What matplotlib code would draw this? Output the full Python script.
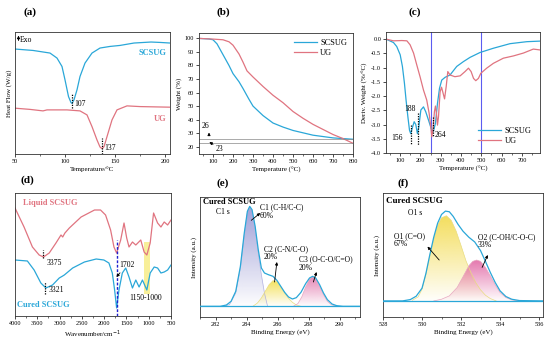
import matplotlib
matplotlib.use("Agg")
import matplotlib.pyplot as plt
import numpy as np
from matplotlib.ticker import AutoMinorLocator

plt.rcParams["font.family"] = ["Liberation Serif", "DejaVu Serif"]
plt.rcParams["axes.linewidth"] = 0.6
plt.rcParams["xtick.major.width"] = 0.5
plt.rcParams["ytick.major.width"] = 0.5
plt.rcParams["xtick.minor.width"] = 0.4
plt.rcParams["ytick.minor.width"] = 0.4

CYAN = "#2aa7d8"
PINK = "#e07480"
VLINE = "#5c5cf0"

# (a) DSC
dsc_t_scsug = [50, 68, 85, 92, 97, 100, 103.5, 106, 107, 109, 112, 115, 120, 127, 135, 145, 155, 169, 186, 195, 205]
dsc_scsug = [104.7, 103.3, 100.7, 95.7, 87.3, 74, 57.3, 51.3, 50.5, 54, 64, 77.3, 90.7, 100.7, 105.7, 107.3, 108.3, 110.7, 111.7, 111.3, 110.7]
dsc_t_ug = [50, 65, 78, 82, 102, 115, 122, 127, 132, 135, 137, 139, 142, 147, 152, 162, 175, 205]
dsc_ug = [45.7, 44.5, 43, 44, 44, 43, 39, 27.3, 14, 7, 5.3, 7.3, 17.3, 34, 44, 48, 47.3, 46.7]

# (b) TGA
tga_t_scsug = [30, 80, 100, 120, 150, 180, 200, 230, 250, 280, 300, 350, 400, 450, 500, 600, 700, 800]
tga_scsug = [100, 99.6, 99, 96, 88, 80, 74, 68, 63, 55, 50, 43, 37.5, 34.5, 32, 28.5, 26.5, 25.5]
tga_t_ug = [30, 100, 150, 180, 200, 230, 250, 270, 300, 350, 400, 450, 500, 550, 600, 700, 750, 800]
tga_ug = [100, 99.5, 99, 97.5, 95, 88.5, 82.5, 76, 71.5, 64.5, 58, 52.5, 46, 41, 36.5, 29, 26, 22.5]
tga_residue = [26, 23]

# (c) DTG
dtg_t_scsug = [30, 67, 83, 100, 111, 121, 129, 138, 146, 152, 159, 169, 177, 185, 192, 202, 215, 226, 240, 253, 264, 274, 284, 294, 305, 322, 346, 379, 412, 445, 494, 560, 642, 725, 790]
dtg_scsug = [0.0, -0.12, -0.26, -0.55, -0.96, -1.55, -2.14, -2.73, -3.2, -3.32, -3.14, -2.9, -3.0, -3.32, -3.08, -2.49, -2.38, -2.55, -2.85, -3.14, -3.24, -2.96, -2.26, -1.73, -1.44, -1.34, -1.26, -0.96, -0.79, -0.64, -0.47, -0.32, -0.16, -0.09, -0.07]
dtg_t_ug = [30, 67, 108, 133, 149, 166, 182, 198, 215, 231, 243, 251, 256, 262, 269, 274, 279, 284, 289, 297, 304, 310, 319, 327, 335, 346, 370, 396, 420, 437, 450, 462, 473, 486, 498, 527, 560, 609, 659, 708, 757, 790]
dtg_ug = [0.0, -0.06, -0.05, -0.06, -0.2, -0.49, -0.91, -1.32, -1.79, -2.14, -2.61, -3.08, -3.43, -3.15, -2.55, -2.35, -2.61, -3.02, -2.73, -1.85, -1.69, -1.85, -2.1, -1.67, -1.14, -1.26, -1.32, -1.29, -1.14, -1.02, -1.14, -1.38, -1.46, -1.38, -1.2, -1.02, -0.85, -0.67, -0.59, -0.49, -0.35, -0.38]
dtg_marks = [250, 500]

# (d) FTIR
ir_wn_liquid = [4000, 3797, 3609, 3458, 3361, 3232, 3081, 2968, 2930, 2880, 2781, 2517, 2216, 2081, 1968, 1855, 1780, 1720, 1629, 1554, 1494, 1442, 1365, 1290, 1178, 1103, 1042, 967, 891, 801, 726, 652, 576, 500]
ir_liquid = [108, 89, 69, 61, 59, 63, 73, 81, 79, 83, 88, 99, 106, 106, 101, 86, 69, 63, 76, 93, 78, 69, 74, 71, 76, 64, 61, 73, 103, 93, 89, 94, 91, 96]
ir_wn_cured = [4000, 3722, 3571, 3420, 3307, 3158, 3007, 2930, 2894, 2706, 2442, 2178, 2006, 1893, 1817, 1765, 1720, 1667, 1592, 1516, 1442, 1365, 1290, 1216, 1141, 1042, 967, 877, 801, 726, 652, 576, 500]
ir_cured = [56, 55, 46, 33, 28, 31, 38, 40, 41, 48, 54, 57, 56, 53, 43, 26, 8, 26, 43, 48, 39, 28, 36, 29, 36, 26, 43, 49, 48, 43, 44, 46, 51]

# (e) XPS C1s
c1s_x = [281, 282.3, 282.7, 283.0, 283.3, 283.6, 283.85, 284.05, 284.2, 284.35, 284.55, 284.75, 284.95, 285.15, 285.4, 285.7, 285.95, 286.2, 286.45, 286.7, 286.95, 287.2, 287.5, 287.8, 288.05, 288.25, 288.45, 288.7, 288.95, 289.2, 289.5, 289.8, 290.2, 291.3]
c1s_env = [0, 0, 4, 15, 45, 120, 220, 285, 300, 290, 240, 170, 115, 100, 95, 90, 78, 60, 42, 28, 22, 26, 42, 68, 85, 90, 85, 65, 40, 20, 7, 2, 0, 0]
c1_x = [282.5, 282.9, 283.3, 283.6, 283.85, 284.05, 284.2, 284.35, 284.55, 284.75, 284.95, 285.15, 285.35]
c1_y = [0, 5, 40, 115, 215, 283, 298, 288, 235, 160, 95, 40, 0]
c2_x = [284.4, 284.7, 284.95, 285.2, 285.45, 285.7, 285.95, 286.2, 286.45, 286.7, 286.95, 287.2, 287.5]
c2_y = [0, 10, 25, 45, 65, 77, 74, 58, 40, 24, 12, 4, 0]
c3_x = [287.0, 287.3, 287.55, 287.8, 288.05, 288.25, 288.45, 288.7, 288.95, 289.2, 289.45, 289.8]
c3_y = [0, 8, 28, 58, 82, 88, 82, 60, 35, 15, 5, 0]

# (f) XPS O1s
o1s_x = [528, 529.0, 529.4, 529.7, 530.0, 530.2, 530.4, 530.6, 530.8, 531.0, 531.2, 531.4, 531.6, 531.85, 532.1, 532.4, 532.7, 533.0, 533.25, 533.5, 533.75, 534.0, 534.3, 534.6, 535.0, 536.2]
o1s_env = [0, 0, 4, 14, 38, 82, 138, 190, 232, 258, 268, 266, 252, 228, 208, 190, 176, 150, 118, 85, 55, 30, 13, 5, 1, 0]
o1_x = [529.5, 529.8, 530.0, 530.2, 530.4, 530.6, 530.8, 531.0, 531.25, 531.5, 531.75, 532.0, 532.25, 532.5, 532.75, 533.0, 533.25, 533.5, 533.8]
o1_y = [2, 12, 35, 80, 135, 185, 225, 248, 254, 240, 208, 165, 120, 85, 55, 33, 17, 7, 0]
o2_x = [530.6, 531.0, 531.4, 531.8, 532.1, 532.4, 532.6, 532.8, 533.0, 533.25, 533.5, 533.75, 534.0, 534.3, 534.6, 535.0]
o2_y = [0, 5, 15, 40, 72, 105, 118, 122, 118, 100, 75, 48, 25, 10, 3, 0]


def add_ax(fig, left, top, right, bottom):
    W, H = 550.0, 346.0
    return fig.add_axes([left / W, 1 - bottom / H, (right - left) / W, (bottom - top) / H])


def style(ax, yticks=True):
    ax.tick_params(labelsize=4.5, length=2, pad=1.5)
    ax.tick_params(which="minor", length=1.2)
    ax.xaxis.set_minor_locator(AutoMinorLocator(2))
    if not yticks:
        ax.set_yticks([])
    for s in ax.spines.values():
        s.set_color("#333333")


def gradient_fill(ax, x, y, color, line_color, alpha_top=0.85):
    x = np.asarray(x, float)
    y = np.asarray(y, float)
    fb = ax.fill_between(x, y, 0, facecolor="none", edgecolor="none")
    rgb = matplotlib.colors.to_rgb(color)
    n = 200
    img = np.zeros((n, 2, 4))
    img[..., :3] = rgb
    img[..., 3] = np.linspace(0.02, alpha_top, n)[:, None]
    im = ax.imshow(img, extent=[x.min(), x.max(), 0, y.max()], origin="lower",
                   aspect="auto", zorder=1, interpolation="bilinear")
    im.set_clip_path(fb.get_paths()[0], transform=ax.transData)
    ax.plot(x, y, color=line_color, lw=0.5, zorder=2)


fig = plt.figure(figsize=(5.5, 3.46), dpi=100)

# ---- (a)
ax = add_ax(fig, 15, 32, 170, 154)
ax.plot(dsc_t_scsug, dsc_scsug, color=CYAN, lw=0.9)
ax.plot(dsc_t_ug, dsc_ug, color=PINK, lw=0.9)
ax.set_xlim(50, 205)
ax.set_ylim(0, 121.7)
ax.set_xticks([50, 100, 150, 200])
style(ax, yticks=False)
ax.set_xlabel("Temperature/\u00b0C", fontsize=5, labelpad=2)
ax.set_ylabel("Heat Flow (W/g)", fontsize=5, labelpad=2)
ax.plot([107, 107], [45.7, 60.7], ls=(0, (1, 1)), color="k", lw=0.9)
ax.plot([137, 137], [0, 15.7], ls=(0, (1, 1)), color="k", lw=0.9)
ax.text(109, 49.7, "107", fontsize=5.5, va="center")
ax.text(139.5, 6.3, "137", fontsize=5.5, va="center")
ax.annotate("", xy=(53.5, 121), xytext=(53.5, 110.5),
            arrowprops=dict(arrowstyle="-|>", lw=0.7, color="k", mutation_scale=4))
ax.text(55, 114, "Exo", fontsize=5.5, va="center")
ax.text(201, 100.7, "SCSUG", fontsize=6, color=CYAN, fontweight="bold", ha="right", va="center")
ax.text(201, 35, "UG", fontsize=6, color=PINK, fontweight="bold", ha="right", va="center")
fig.text(30 / 550, 1 - 12 / 346, "(a)", fontsize=8, fontweight="bold", ha="center", va="center")

# ---- (b)
ax = add_ax(fig, 199, 33, 353, 154)
ax.plot(tga_t_scsug, tga_scsug, color=CYAN, lw=0.9, label="SCSUG")
ax.plot(tga_t_ug, tga_ug, color=PINK, lw=0.9, label="UG")
for r in tga_residue:
    ax.axhline(r, color="#888888", lw=0.5)
ax.set_xlim(30, 800)
ax.set_ylim(14.6, 104)
ax.set_xticks(range(100, 801, 100))
ax.set_yticks(range(20, 101, 10))
style(ax)
ax.set_xlabel("Temperature (\u00b0C)", fontsize=5, labelpad=2)
ax.set_ylabel("Weight (%)", fontsize=5, labelpad=2)
ax.annotate("", xy=(80, 32.5), xytext=(80, 26.2),
            arrowprops=dict(arrowstyle="-|>", lw=0.6, color="k", mutation_scale=4))
ax.text(42, 35.5, "26", fontsize=5.5, va="center")
ax.annotate("23", xy=(82, 23.5), xytext=(114, 18.3), fontsize=5.5, va="center",
            arrowprops=dict(arrowstyle="-|>", lw=0.6, color="k", mutation_scale=4,
                            shrinkA=0, shrinkB=0))
ax.legend(loc="upper right", fontsize=6, frameon=False, handlelength=2.8,
          borderaxespad=0.3, labelspacing=0.2, handletextpad=0.4)
fig.text(223 / 550, 1 - 12 / 346, "(b)", fontsize=8, fontweight="bold", ha="center", va="center")

# ---- (c)
ax = add_ax(fig, 386, 32, 540, 153)
ax.plot(dtg_t_scsug, dtg_scsug, color=CYAN, lw=0.9, label="SCSUG")
ax.plot(dtg_t_ug, dtg_ug, color=PINK, lw=0.9, label="UG")
for m in dtg_marks:
    ax.axvline(m, color=VLINE, lw=0.8, zorder=0)
ax.set_xlim(30, 790)
ax.set_ylim(-4.0, 0.25)
ax.set_xticks(range(100, 701, 100))
ax.set_yticks(np.arange(-4.0, 0.01, 0.5))
ax.set_yticklabels([f"{v:.1f}" for v in np.arange(-4.0, 0.01, 0.5)])
style(ax)
ax.set_xlabel("Temperature (\u00b0C)", fontsize=5, labelpad=2)
ax.set_ylabel("Deriv. Weight (%/\u00b0C)", fontsize=5, labelpad=2)
ax.plot([152, 152], [-3.0, -3.67], ls=(0, (1, 1)), color="k", lw=0.9)
ax.plot([187, 187], [-2.61, -3.73], ls=(0, (1, 1)), color="k", lw=0.9)
ax.plot([264, 264], [-2.73, -3.44], ls=(0, (1, 1)), color="k", lw=0.9)
ax.text(84, -3.49, "156", fontsize=5.5, ha="center", va="center")
ax.text(149, -2.44, "188", fontsize=5.5, ha="center", va="center")
ax.text(268, -3.38, "264", fontsize=5.5, va="center")
ax.legend(loc="lower right", fontsize=6, frameon=False, handlelength=2.8,
          borderaxespad=0.6, labelspacing=0.2, handletextpad=0.4)
fig.text(415 / 550, 1 - 12 / 346, "(c)", fontsize=8, fontweight="bold", ha="center", va="center")

# ---- (d)
ax = add_ax(fig, 15, 193, 171, 316)
ax.plot(ir_wn_liquid, ir_liquid, color=PINK, lw=0.9)
ax.plot(ir_wn_cured, ir_cured, color=CYAN, lw=0.9)
ax.fill_between([1100, 980], 22, 74, color="#f7ec80", alpha=0.8, lw=0, zorder=0)
ax.plot([1715, 1715], [0, 76], ls=(0, (2, 1.2)), color="#2020d0", lw=1.0)
ax.plot([3375, 3375], [58, 66], ls=(0, (1, 1)), color="k", lw=0.9)
ax.plot([3321, 3321], [22, 34], ls=(0, (1, 1)), color="k", lw=0.9)
ax.set_xlim(4000, 500)
ax.set_ylim(0, 123)
ax.set_xticks(range(4000, 499, -500))
style(ax, yticks=False)
ax.set_xlabel("Wavenumber/cm$^{-1}$", fontsize=5, labelpad=2)
ax.text(3280, 53, "3375", fontsize=5.5, va="center")
ax.text(3240, 26, "3321", fontsize=5.5, va="center")
ax.annotate("1702", xy=(1725, 39), xytext=(1665, 51), fontsize=5.5, va="center",
            arrowprops=dict(arrowstyle="-|>", lw=0.6, color="k", mutation_scale=4,
                            shrinkA=1, shrinkB=0))
ax.text(1065, 18, "1150-1000", fontsize=5.5, ha="center", va="center")
ax.text(3820, 113, "Liquid SCSUG", fontsize=6, color=PINK, fontweight="bold", va="center")
ax.text(3960, 11, "Cured SCSUG", fontsize=6, color=CYAN, fontweight="bold", va="center")
fig.text(27 / 550, 1 - 180 / 346, "(d)", fontsize=8, fontweight="bold", ha="center", va="center")

# ---- (e)
ax = add_ax(fig, 200, 197, 360, 317)
gradient_fill(ax, c1_x, c1_y, "#8f8fd0", "#b0b0e0")
gradient_fill(ax, c2_x, c2_y, "#f2dc40", "#e8dc80")
gradient_fill(ax, c3_x, c3_y, "#e070a8", "#e8a8c0")
ax.plot(c1s_x, c1s_env, color=CYAN, lw=0.9, zorder=3)
ax.axhline(0, color=CYAN, lw=0.9, zorder=3)
ax.set_xlim(281, 291.3)
ax.set_ylim(-32, 328)
ax.set_xticks(range(282, 291, 2))
style(ax, yticks=False)
ax.set_xlabel("Binding Energy (eV)", fontsize=5, labelpad=2)
ax.set_ylabel("Intensity (a.u.)", fontsize=5, labelpad=2)
ax.text(281.2, 312, "Cured SCSUG", fontsize=6, fontweight="bold", va="center")
ax.text(282.48, 283, "C1 s", fontsize=5.5, ha="center", va="center")
ax.text(284.85, 284, "C1 (C-H/C-C)\n60%", fontsize=5.5, va="center", linespacing=1.0)
ax.text(285.1, 160, "C2 (C-N/C-O)\n20%", fontsize=5.5, va="center", linespacing=1.0)
ax.text(287.35, 128, "C3 (O-C-O/C=O)\n20%", fontsize=5.5, va="center", linespacing=1.0)
arrow = dict(arrowstyle="-|>", lw=0.6, color="k", mutation_scale=4, shrinkA=0, shrinkB=0)
ax.annotate("", xy=(284.88, 280), xytext=(284.3, 258), arrowprops=arrow)
ax.annotate("", xy=(285.95, 133), xytext=(285.8, 73), arrowprops=arrow)
ax.annotate("", xy=(288.5, 103), xytext=(288.3, 73), arrowprops=arrow)
fig.text(223 / 550, 1 - 183 / 346, "(e)", fontsize=8, fontweight="bold", ha="center", va="center")

# ---- (f)
ax = add_ax(fig, 383, 193, 543, 317)
gradient_fill(ax, o1_x, o1_y, "#f2d840", "#e8dc80")
gradient_fill(ax, o2_x, o2_y, "#e060a0", "#e8a8c0")
ax.plot(o1s_x, o1s_env, color=CYAN, lw=0.9, zorder=3)
ax.axhline(0, color=CYAN, lw=0.9, zorder=3)
ax.set_xlim(528, 536.2)
ax.set_ylim(-48, 322)
ax.set_xticks(range(528, 537, 2))
style(ax, yticks=False)
ax.set_xlabel("Binding Energy (eV)", fontsize=5, labelpad=2)
ax.set_ylabel("Intensity (a.u.)", fontsize=5, labelpad=2)
ax.text(528.14, 297, "Cured SCSUG", fontsize=6.5, fontweight="bold", va="center")
ax.text(529.64, 262, "O1 s", fontsize=5.5, ha="center", va="center")
ax.text(528.57, 182, "O1 (C=O)\n67%", fontsize=5.5, va="center", linespacing=1.0)
ax.text(532.86, 178, "O2 (C-OH/C-O-C)\n33%", fontsize=5.5, va="center", linespacing=1.0)
ax.annotate("", xy=(530.28, 162), xytext=(530.88, 122), arrowprops=arrow)
ax.annotate("", xy=(533.37, 137), xytext=(533.08, 100), arrowprops=arrow)
fig.text(403 / 550, 1 - 183 / 346, "(f)", fontsize=8, fontweight="bold", ha="center", va="center")

fig.savefig("out.png", dpi=100)
